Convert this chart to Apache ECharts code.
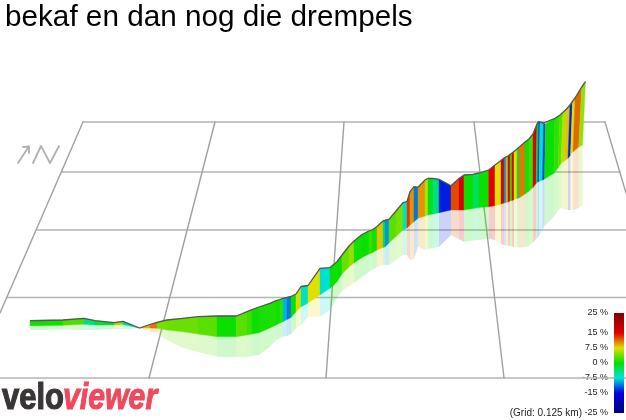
<!DOCTYPE html>
<html><head><meta charset="utf-8">
<style>html,body{margin:0;padding:0;background:#fff}#c{width:626px;height:420px}</style>
<script src="https://cdn.jsdelivr.net/npm/echarts@6/dist/echarts.min.js"></script>
</head><body><div id="c"></div>
<script>
const titleText = 'bekaf en dan nog die drempels';
const gridNote = '(Grid: 0.125 km)';
const legendTicks = [25, 15, 7.5, 0, -7.5, -15, -25];
const gradeStops = [-25, -15, -7.5, 0, 7.5, 15, 25];
const gradeColors = ['#000080', '#0000e0', '#00e0e0', '#00e000', '#e0e000', '#e00000', '#800000'];

const stationX = [30,40,63,84,95,114,123,139.5,150,157,167,183,198,217,236.5,247,252,259,270,276,280,283,287,291,296,301,308,320,330,333,337,342,349,354,362,369,372,377,383,385,389,396,403,407,410,414,418,425,428,433,439,451,459,464,473,479,488.7,495,501,504,506,508,510,512,514,517,519,525,529,533,537,538.5,540,543.5,545.5,555,560,563,566.5,570,572.5,575,581.7,585.5];
const crestY = [320.7,320.5,320,318.3,320.7,322.7,321.3,328,324.5,322.3,320,318.3,316.7,316,316,311.7,309.7,307,303.3,300.7,299.5,298.3,297.5,296.5,294,286.5,285.5,268.3,267.7,265,261.7,255,246,241,234.5,231,230,226.5,221,220,219.3,211,202.7,201.7,191.7,186.7,187.3,180,178.3,178.5,179.3,185.7,178.5,175,174.3,173,170,165,160.5,158,157,156,154.5,153,151,149,148,142,139,134,124,121.7,122,123,124,118.3,115,112.3,109,105,101.5,98,87,81.7];
const baseY = [325.7,325.7,325.3,324.3,325,325,324.7,328,328,328.3,330,331.7,334,336.7,336.7,335,334,332.7,328,325,323,321.7,319.5,317.5,311.7,307,303,295,288.3,286,281.7,274,267,263,257.5,254,253,250,247.5,247,243,236.5,230,228,225,221.7,218.3,216,215,214,212.7,210,210,210,208.5,207.5,206.7,205.7,204,203,202.5,202,201,200.5,199.5,198.5,198,194,191,187.5,183.5,182,181.5,180,179,173.3,168,163.3,161,158.3,155,151.7,147,145];
const mirrorY = [330,330,329.5,330,330,329,329.5,328,331.5,333,340,348,352,356.7,357.3,357,356,355,346.7,340,338,337,336,334,328,325,317,316.7,310,305,298,291,286,283,277,272,270,267,265,265,265,260,255,255,260,259,246.7,250,249,248,247,235,239,241.7,240.5,240,238.5,240,244,245,245.5,245.5,246,246.5,246.7,247,247.5,247,246,242.5,239,238,236,230,226,216.7,210,208,209,210,210,210,208,205];
const grade = [0.5,0.5,2.5,-4,-1.5,5,-5,9,11,4,3.5,3.5,3,0.3,3,2,0.3,0.8,1,0.5,1.5,-9,-11,0.3,7,-6.5,7.5,-7,0.3,0.5,0.3,3.5,5,0.5,0.3,2,0.5,8.5,-3,-10,3,4,-6.5,13,10,-11,10,6,-1,-4,-14,12.5,15.5,0.3,-3,0.3,15,7.5,16,-10,9,15,1,15,7.5,-2.5,11,0.5,2,15.5,-1,-13,-7,-13,0.3,1.5,3,6,8.5,-14,7.5,11.5,5];
const lean = [0,0,0,0,0,0,0,0,0,0,0,0,0,0,0,0,0,0,0,0,0,0,0,0,0,0,0,0,0,0,0,0,0,0,0,0,0,0,0,0,0,0,0,0,0,0,0,0,0,0,0,0,0,0,0,0,0,0,0,0,0,0,0,0,0,0,0,0,0,0,-1,-1,-1,-1,-1,-1,-2,-2,-2,-2,-2,-2,-3,-3];

const horizontalLines = [[83,122,605,122],[62,172,620,172],[37,230,626,230],[7,297.5,626,297.5],[0,378,626,378]];
const perspectiveLines = [[83,122,0,313],[215,122,149,378],[344,122,326,378],[474,122,504,378],[605,122,626,193]];
const northArrow = [[18,163,28.5,147],[23,147,29,146.5,29,153]];
const northLetter = [[33,163,41,146,50,163,59,146]];

function hex(c){return [1,3,5].map(i=>parseInt(c.substr(i,2),16));}
function gradeColor(g){
  let i=0; while(i<gradeStops.length-2 && g>gradeStops[i+1]) i++;
  const t=(g-gradeStops[i])/(gradeStops[i+1]-gradeStops[i]);
  const a=hex(gradeColors[i]), b=hex(gradeColors[i+1]);
  return 'rgb('+a.map((v,k)=>Math.round(v+(b[k]-v)*t)).join(',')+')';
}
const spans = grade.map((g,i)=>[stationX[i],crestY[i],baseY[i],mirrorY[i],lean[i],stationX[i+1],crestY[i+1],baseY[i+1],mirrorY[i+1],lean[i+1],g]);

function wallItem(params, api){
  const v=k=>api.value(k);
  const p=[[v(0),v(1)],[v(5),v(6)],[v(5)+v(9),v(7)],[v(0)+v(4),v(2)]].map(q=>api.coord(q));
  const c=gradeColor(v(10));
  return {type:'polygon',shape:{points:p},style:{fill:c,stroke:c,lineWidth:0.4}};
}
function mirrorItem(params, api){
  const v=k=>api.value(k);
  const p=[[v(0)+v(4),v(2)],[v(5)+v(9),v(7)],[v(5)+v(9),v(8)],[v(0)+v(4),v(3)]].map(q=>api.coord(q));
  return {type:'polygon',shape:{points:p},style:{fill:gradeColor(v(10)),opacity:0.2}};
}
function polyItem(color,width){
  return function(params, api){
    const n=api.value(0), p=[];
    for(let k=0;k<n;k++) p.push(api.coord([api.value(1+2*k),api.value(2+2*k)]));
    return {type:'polyline',shape:{points:p},style:{stroke:color,lineWidth:width,fill:null,lineCap:'round',lineJoin:'round'}};
  };
}
function asPoly(list){return list.map(l=>[l.length/2].concat(l));}
function polySeries(list,color,width,z){
  const rows=asPoly(list), dimCount=Math.max(...rows.map(r=>r.length));
  return {type:'custom',xAxisIndex:0,yAxisIndex:0,silent:true,z:z,clip:true,animation:false,
    renderItem:polyItem(color,width),
    encode:{x:1,y:2},
    dimensions:Array.from({length:dimCount},(_,i)=>'d'+i),
    data:rows};
}

const chart=echarts.init(document.getElementById('c'),null,{renderer:'canvas',width:626,height:420});
const stopsForBar=gradeStops.map((g,i)=>({offset:(25-g)/50,color:gradeColors[i]})).reverse();

chart.setOption({
  animation:false,
  backgroundColor:'#fff',
  title:{text:titleText,left:5,top:3,padding:0,textStyle:{fontFamily:'Liberation Sans',fontSize:29.7,fontWeight:'normal',color:'#000'}},
  grid:[
    {left:0,top:0,width:626,height:420},
    {left:614,top:313,width:10,height:100}
  ],
  xAxis:[
    {type:'value',min:0,max:626,show:false,gridIndex:0},
    {type:'value',min:0,max:1,show:false,gridIndex:1}
  ],
  yAxis:[
    {type:'value',min:-0,max:420,inverse:true,show:false,gridIndex:0},
    {type:'value',min:-25,max:25,interval:2.5,gridIndex:1,position:'left',
      axisLine:{show:false},axisTick:{show:false},splitLine:{show:false},
      axisLabel:{show:true,margin:6,color:'#222',fontFamily:'"Liberation Sans", Arial, sans-serif',fontSize:9,
        customValues:legendTicks,formatter:v=>v+' %'}}
  ],
  series:[
    polySeries(horizontalLines,'#b4b4b4',1.6,1),
    polySeries(perspectiveLines,'#a0a0a0',1.4,2),
    polySeries(northArrow,'#b0b0b0',1.8,2),
    polySeries(northLetter,'#b0b0b0',1.8,2),
    {type:'custom',silent:true,z:3,animation:false,renderItem:mirrorItem,
      dimensions:['x0','t0','b0','m0','l0','x1','t1','b1','m1','l1','g'],encode:{x:0,y:1},data:spans},
    {type:'custom',silent:true,z:4,animation:false,renderItem:wallItem,
      dimensions:['x0','t0','b0','m0','l0','x1','t1','b1','m1','l1','g'],encode:{x:0,y:1},data:spans},
    {type:'line',silent:true,z:5,animation:false,symbol:'none',
      lineStyle:{color:'#555',width:1.3},data:stationX.map((x,i)=>[x,crestY[i]])},
    {type:'custom',xAxisIndex:1,yAxisIndex:1,silent:true,z:5,animation:false,
      renderItem:function(params,api){
        const a=api.coord([0,api.value(0)]), b=api.coord([1,api.value(1)]);
        return {type:'rect',shape:{x:a[0],y:b[1],width:b[0]-a[0],height:a[1]-b[1]},
          style:{fill:new echarts.graphic.LinearGradient(0,0,0,1,stopsForBar)}};
      },
      encode:{y:[0,1]},data:[[-25,25]]}
  ],
  graphic:[
    {type:'text',z:10,x:582,y:408,style:{text:gridNote,align:'right',fill:'#222',font:'10px "Liberation Sans", Arial, sans-serif'}},
    {type:'text',z:10,x:2,y:381,scaleX:0.86,style:{text:'velo',fill:'#3a3636',stroke:'#3a3636',lineWidth:1.2,font:'bold 36px "Liberation Sans"'}},
    {type:'text',z:11,x:63,y:381,scaleX:0.84,style:{text:'viewer',fill:'#f0485c',stroke:'#f0485c',lineWidth:1,font:'italic bold 36px "Liberation Sans"'}}
  ]
});
</script></body></html>
